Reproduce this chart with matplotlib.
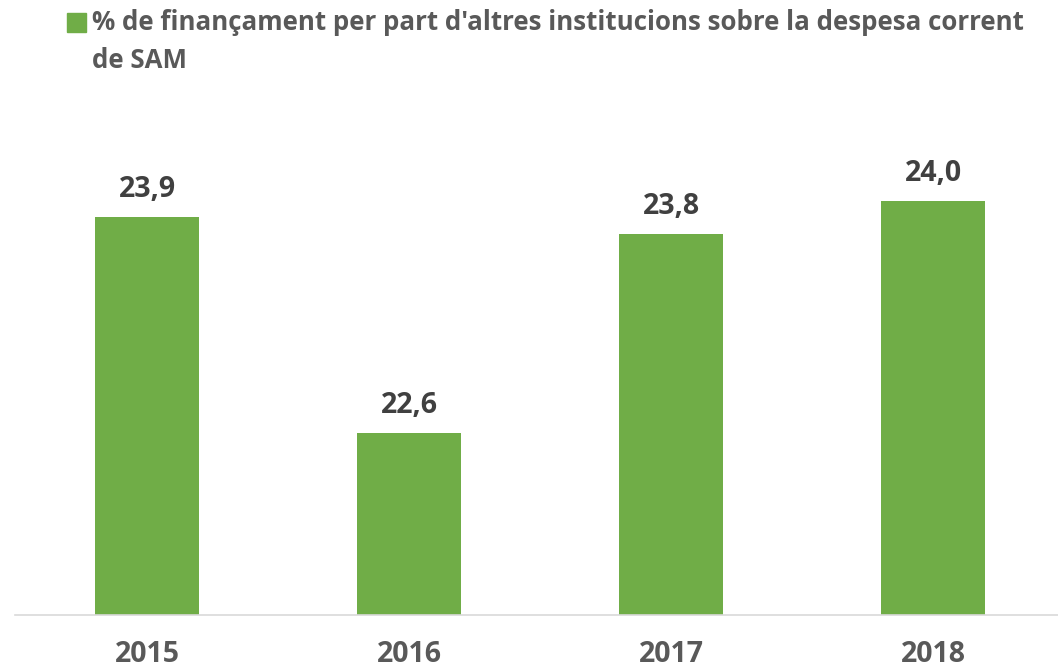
import matplotlib
matplotlib.use("Agg")
import matplotlib.pyplot as plt
from matplotlib.patches import Rectangle

# -----------------------------
# Data
# -----------------------------
years = ["2015", "2016", "2017", "2018"]
values = [23.9, 22.6, 23.8, 24.0]
value_labels = ["23,9", "22,6", "23,8", "24,0"]
legend_line1 = "% de finançament per part d'altres institucions sobre la despesa corrent"
legend_line2 = "de SAM"

GREEN = "#70AD47"
TEXT_GRAY = "#595959"
LABEL_GRAY = "#404040"

plt.rcParams["font.family"] = ["Open Sans", "DejaVu Sans"]

fig = plt.figure(figsize=(10.58, 6.69), dpi=100)
ax = fig.add_axes([15 / 1058, 1 - 615 / 669, 1 - 15 / 1058, 497 / 669])

x = range(len(years))
bars = ax.bar(x, values, width=0.4, color=GREEN)
ax.set_ylim(21.5, 24.5)
ax.set_xlim(-0.504, 3.477)

for rect, lab in zip(bars, value_labels):
    ax.annotate(lab, (rect.get_x() + rect.get_width() / 2, rect.get_height()),
                xytext=(0, 14.4), textcoords="offset points", ha="center", va="baseline",
                fontsize=20.5, fontweight="bold", color=LABEL_GRAY)

ax.set_xticks(list(x))
ax.set_xticklabels(years, fontsize=20.5, fontweight="bold", color=TEXT_GRAY)
ax.tick_params(axis="x", length=0, pad=18)
ax.set_yticks([])
for side in ["top", "right", "left"]:
    ax.spines[side].set_visible(False)
ax.spines["bottom"].set_color("#D9D9D9")
ax.spines["bottom"].set_linewidth(1.2)

# legend (manual, square aligned with first line)
fig.patches.append(Rectangle((67 / 1058, 1 - 32 / 669), 19 / 1058, 19 / 669,
                             transform=fig.transFigure, color=GREEN))
fig.text(92 / 1058, 1 - 22 / 669, legend_line1, fontsize=18.6, fontweight="bold",
         color=TEXT_GRAY, va="center", ha="left")
fig.text(92 / 1058, 1 - 61 / 669, legend_line2, fontsize=18.6, fontweight="bold",
         color=TEXT_GRAY, va="center", ha="left")

plt.savefig("out.png", dpi=100)
plt.close()
